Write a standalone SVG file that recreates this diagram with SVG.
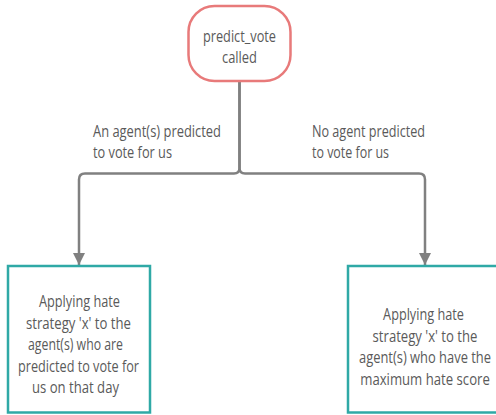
<svg xmlns="http://www.w3.org/2000/svg" width="496" height="415" viewBox="0 0 496 415">
<defs>
<style>
text{font-family:"Open Sans","Noto Sans","Liberation Sans",sans-serif;font-size:16px;fill:#5a5a5a}
.c{text-anchor:middle}
.conn{fill:none;stroke:#808080;stroke-width:2.5}
.box{fill:#fff;stroke:#2fa9a6;stroke-width:2.5}
</style>
<marker id="ah" viewBox="0 0 10 10" refX="10" refY="5" markerWidth="5" markerHeight="5" markerUnits="strokeWidth" orient="auto">
<path d="M0,0 L10,5 L0,10 z" fill="#808080"/>
</marker>
</defs>
<rect width="496" height="415" fill="#fff"/>
<g id="connectors">
<path class="conn" d="M239.5,81 V168 Q239.5,173.5 234,173.5 H85 Q79,173.5 79,179.5 V265" marker-end="url(#ah)"/>
<path class="conn" d="M239.5,81 V168 Q239.5,173.5 245,173.5 H419 Q425,173.5 425,179.5 V265" marker-end="url(#ah)"/>
<text x="93" y="137" textLength="128" lengthAdjust="spacingAndGlyphs">An agent(s) predicted</text>
<text x="93" y="158" textLength="79" lengthAdjust="spacingAndGlyphs">to vote for us</text>
<text x="312" y="137" textLength="113" lengthAdjust="spacingAndGlyphs">No agent predicted</text>
<text x="312" y="158" textLength="77" lengthAdjust="spacingAndGlyphs">to vote for us</text>
</g>
<g id="start">
<rect x="188.5" y="6" width="102" height="75" rx="26" ry="26" fill="#fff" stroke="#e87a7a" stroke-width="2.5"/>
<text class="c" x="239.5" y="42" textLength="73" lengthAdjust="spacingAndGlyphs">predict_vote</text>
<text class="c" x="239.5" y="63" textLength="35" lengthAdjust="spacingAndGlyphs">called</text>
</g>
<g id="left">
<rect class="box" x="8" y="266" width="142" height="146.5"/>
<text class="c" x="79.5" y="307" textLength="81" lengthAdjust="spacingAndGlyphs">Applying hate</text>
<text class="c" x="78.5" y="328.5" textLength="105" lengthAdjust="spacingAndGlyphs">strategy 'x' to the</text>
<text class="c" x="75.5" y="350" textLength="95" lengthAdjust="spacingAndGlyphs">agent(s) who are</text>
<text class="c" x="78.5" y="371.5" textLength="121" lengthAdjust="spacingAndGlyphs">predicted to vote for</text>
<text class="c" x="75.5" y="393" textLength="87" lengthAdjust="spacingAndGlyphs">us on that day</text>
</g>
<g id="right">
<rect class="box" x="348" y="266" width="160" height="146.5"/>
<text class="c" transform="translate(423.5,320) scale(0.8,1)" textLength="101" lengthAdjust="spacingAndGlyphs">Applying hate</text>
<text class="c" transform="translate(425,341.5) scale(0.8,1)" textLength="131" lengthAdjust="spacingAndGlyphs">strategy 'x' to the</text>
<text class="c" transform="translate(425,363) scale(0.8,1)" textLength="165" lengthAdjust="spacingAndGlyphs">agent(s) who have the</text>
<text class="c" transform="translate(425,384.5) scale(0.8,1)" textLength="162" lengthAdjust="spacingAndGlyphs">maximum hate score</text>
</g>
</svg>
